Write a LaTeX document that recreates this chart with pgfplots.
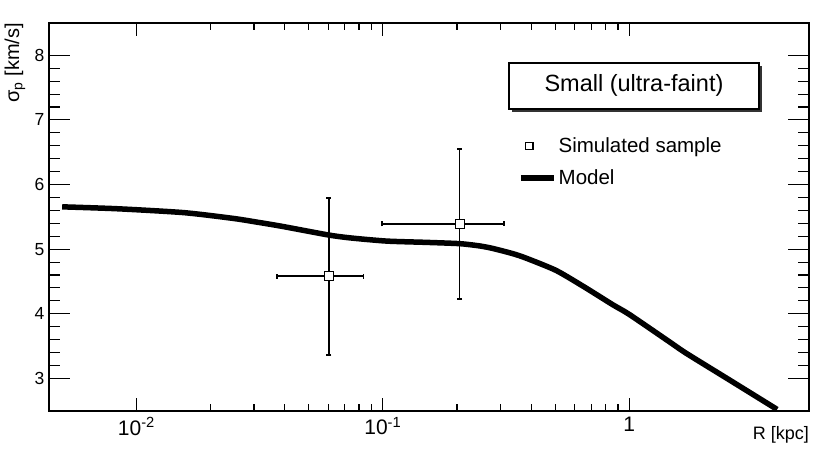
\documentclass[border=0pt]{standalone}
\usepackage{fontspec}
\setmainfont{Liberation Sans}
\usepackage{pgfplots}
\pgfplotsset{compat=1.18}
\usetikzlibrary{shadows}

\begin{document}
\begin{tikzpicture}[x=1pt,y=1pt]
\useasboundingbox (-49,-46.3) rectangle (781,410.7);
\begin{axis}[
  at={(0,0)}, anchor=south west,
  scale only axis, width=760pt, height=387.7pt,
  xmode=log, xmin=0.00442, xmax=5.36, ymin=2.5, ymax=8.5,
  xtick={0.01,0.1,1},
  xticklabels={10\textsuperscript{-2},10\textsuperscript{-1},1},
  ytick={3,4,5,6,7,8}, yticklabels={3,4,5,6,7,8},
  minor y tick num=4,
  tick align=inside,
  xtick pos=both, ytick pos=both,
  axis line style={line width=1.8pt},
  every tick/.style={black, line width=1.1pt},
  x tick style={/pgfplots/major tick length=13pt,/pgfplots/minor tick length=7pt},
  y tick style={/pgfplots/major tick length=21pt,/pgfplots/minor tick length=11pt},
  xticklabel style={font=\fontsize{21}{24}\selectfont, yshift=-3pt},
  yticklabel style={font=\fontsize{17.5}{20}\selectfont, xshift=-1pt},
  xlabel={R [kpc]},
  ylabel={σ\textsubscript{p} [km/s]},
  every axis x label/.style={at={(rel axis cs:1,0)}, anchor=north east, yshift=-16pt, font=\fontsize{18}{21}\selectfont, inner sep=0pt},
  every axis y label/.style={at={([xshift=-34pt]rel axis cs:0,1)}, rotate=90, anchor=east, font=\fontsize{20}{23}\selectfont, inner sep=0pt},
  legend style={at={(axis description cs:0.6171,0.7099)}, anchor=north west, draw=none, fill=none,
    font=\fontsize{20.5}{24}\selectfont, row sep=12pt, inner sep=0pt,
    nodes={inner sep=2pt}},
  legend cell align=left,
  reverse legend,
  clip=false,
]
\addplot[black, line width=5.5pt, line join=round, smooth, tension=0.4,
  legend image code/.code={\draw[black, line width=5.5pt] (0pt,0pt) -- (33pt,0pt);}]
coordinates {
(0.005,5.655)
(0.0084,5.625)
(0.0156,5.565)
(0.0248,5.475)
(0.0318,5.41)
(0.0394,5.35)
(0.06,5.22)
(0.0734,5.175)
(0.1035,5.125)
(0.15,5.105)
(0.205,5.085)
(0.247,5.05)
(0.28,5.01)
(0.337,4.93)
(0.382,4.86)
(0.505,4.67)
(0.66,4.41)
(0.857,4.14)
(1.0,3.99)
(1.45,3.57)
(1.70,3.39)
(2.54,2.98)
(3.98,2.52)
};
\addplot[black, only marks, mark=square*, mark size=4.5pt,
  mark options={fill=white, draw=black, line width=1.2pt},
  legend image code/.code={\path[draw=none,fill=none] (0pt,0pt) -- (33pt,0pt);
    \draw[black, fill=white, line width=1.2pt] (4.5pt,-4pt) rectangle (12pt,3.5pt);},
  error bars/.cd, x dir=both, x explicit, y dir=both, y explicit,
  error bar style={line width=1.6pt, black},
  error mark options={rotate=90, mark size=2.5pt, line width=1.6pt, black}]
coordinates {
(0.0604,4.58) +- (0.0232,1.215)
(0.205,5.39) +- (0.106,1.16)
};
\addlegendentry{Model}
\addlegendentry{Simulated sample}
\node[draw=black, line width=1.3pt, fill=white, minimum width=250pt, minimum height=46pt,
  font=\fontsize{23.5}{28}\selectfont,
  drop shadow={shadow xshift=3pt, shadow yshift=-3pt, fill=black!80, opacity=1}]
  at (rel axis cs:0.7697,0.8378) {Small (ultra-faint)};
\end{axis}
\end{tikzpicture}
\end{document}
